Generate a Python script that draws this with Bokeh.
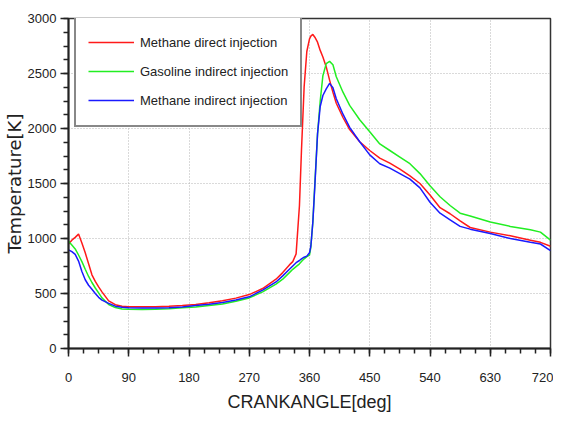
from bokeh.plotting import figure
from bokeh.models import SingleIntervalTicker, Legend, LegendItem
from bokeh.embed import file_html
from bokeh.resources import INLINE

crank = [0, 5, 10, 15, 20, 25, 30, 35, 40, 45, 50, 60, 70, 80, 90, 110, 130, 150, 170, 190,
         210, 230, 250, 270, 290, 310, 320, 330, 335, 340, 345, 348, 352, 356, 360, 362, 365,
         368, 372, 376, 380, 385, 390, 395, 400, 410, 420, 435, 450, 465, 480, 495, 510, 525,
         540, 555, 570, 585, 600, 630, 660, 690, 705, 720]

methane_direct = [950, 985, 1010, 1040, 960, 870, 770, 670, 610, 560, 515, 433, 398, 385, 380,
                  380, 380, 385, 392, 400, 415, 435, 458, 490, 545, 630, 690, 760, 790, 860,
                  1300, 1800, 2380, 2700, 2815, 2840, 2855, 2830, 2785, 2710, 2650, 2560, 2440,
                  2330, 2230, 2100, 1990, 1880, 1800, 1730, 1685, 1630, 1570, 1500, 1395, 1280,
                  1225, 1160, 1100, 1058, 1025, 985, 965, 930]

gasoline_indirect = [975, 940, 905, 850, 790, 720, 655, 600, 550, 505, 460, 400, 372, 360, 357,
                     355, 357, 362, 370, 378, 390, 405, 430, 460, 515, 585, 630, 690, 720, 745,
                     770, 790, 815, 835, 850, 920, 1150, 1500, 1950, 2250, 2480, 2590, 2610,
                     2580, 2470, 2330, 2210, 2080, 1970, 1860, 1800, 1740, 1680, 1590, 1480,
                     1380, 1300, 1230, 1205, 1150, 1110, 1080, 1058, 985]

methane_indirect = [897, 880, 855, 795, 700, 625, 575, 538, 500, 465, 440, 410, 385, 375, 370,
                    368, 368, 370, 377, 390, 402, 418, 440, 470, 530, 605, 660, 720, 750, 780,
                    800, 815, 830, 840, 870, 930, 1150, 1480, 1950, 2200, 2300, 2360, 2410,
                    2370, 2270, 2130, 2010, 1880, 1760, 1680, 1640, 1590, 1540, 1460, 1330,
                    1230, 1170, 1110, 1085, 1045, 1000, 965, 950, 890]

series_names = ["Methane direct injection", "Gasoline indirect injection", "Methane indirect injection"]
series_colors = ["#ff1a1a", "#22ee22", "#1a1aff"]

FONT = "Liberation Sans"

p = figure(width=553, height=418, x_range=(0, 720), y_range=(0, 3000),
           output_backend="svg", toolbar_location=None,
           min_border_left=67, min_border_top=18, min_border_right=3, min_border_bottom=70)

p.background_fill_color = "white"
p.border_fill_color = "white"
p.outline_line_color = "#333333"
p.outline_line_width = 1.5

p.xaxis.ticker = SingleIntervalTicker(interval=90, num_minor_ticks=4)
p.yaxis.ticker = SingleIntervalTicker(interval=500, num_minor_ticks=4)

for ax in (p.xaxis[0], p.yaxis[0]):
    ax.axis_line_color = "#222222"
    ax.axis_line_width = 2
    ax.major_tick_line_color = "#222222"
    ax.minor_tick_line_color = "#222222"
    ax.major_tick_line_width = 1.5
    ax.minor_tick_line_width = 1.5
    ax.major_tick_out = 8
    ax.major_tick_in = 0
    ax.minor_tick_out = 5
    ax.minor_tick_in = 0
    ax.major_label_text_font = FONT
    ax.major_label_text_font_size = "13px"
    ax.major_label_text_color = "#222222"
    ax.axis_label_text_font_style = "normal"
    ax.axis_label_text_color = "#222222"

p.xaxis.axis_label = "CRANKANGLE[deg]"
p.xaxis.axis_label_text_font = FONT
p.xaxis.axis_label_text_font_size = "18px"
p.xaxis.major_label_standoff = 16
p.xaxis.axis_label_standoff = 7

p.yaxis.axis_label = "Temperature[K]"
p.yaxis.axis_label_text_font = "DejaVu Sans"
p.yaxis.axis_label_text_font_size = "18px"
p.yaxis.major_label_standoff = 4
p.yaxis.axis_label_standoff = 0

for g in (p.xgrid[0], p.ygrid[0]):
    g.grid_line_color = "#b4b4b4"
    g.grid_line_dash = "1 2"
    g.grid_line_width = 1

renderers = []
for ys, c in zip([methane_direct, gasoline_indirect, methane_indirect], series_colors):
    r = p.line(crank, ys, line_color=c, line_width=1.5)
    renderers.append(r)

legend = Legend(items=[LegendItem(label=n, renderers=[r]) for n, r in zip(series_names, renderers)],
                location=(6, 221), margin=0, padding=12, spacing=3,
                glyph_width=46, glyph_height=26, label_height=26, label_standoff=6,
                label_text_font=FONT, label_text_font_size="13px",
                label_text_color="#222222",
                border_line_color="#111111", border_line_width=2,
                background_fill_color="white", background_fill_alpha=1.0)
p.add_layout(legend)

open("out.html", "w").write(file_html(p, INLINE))
